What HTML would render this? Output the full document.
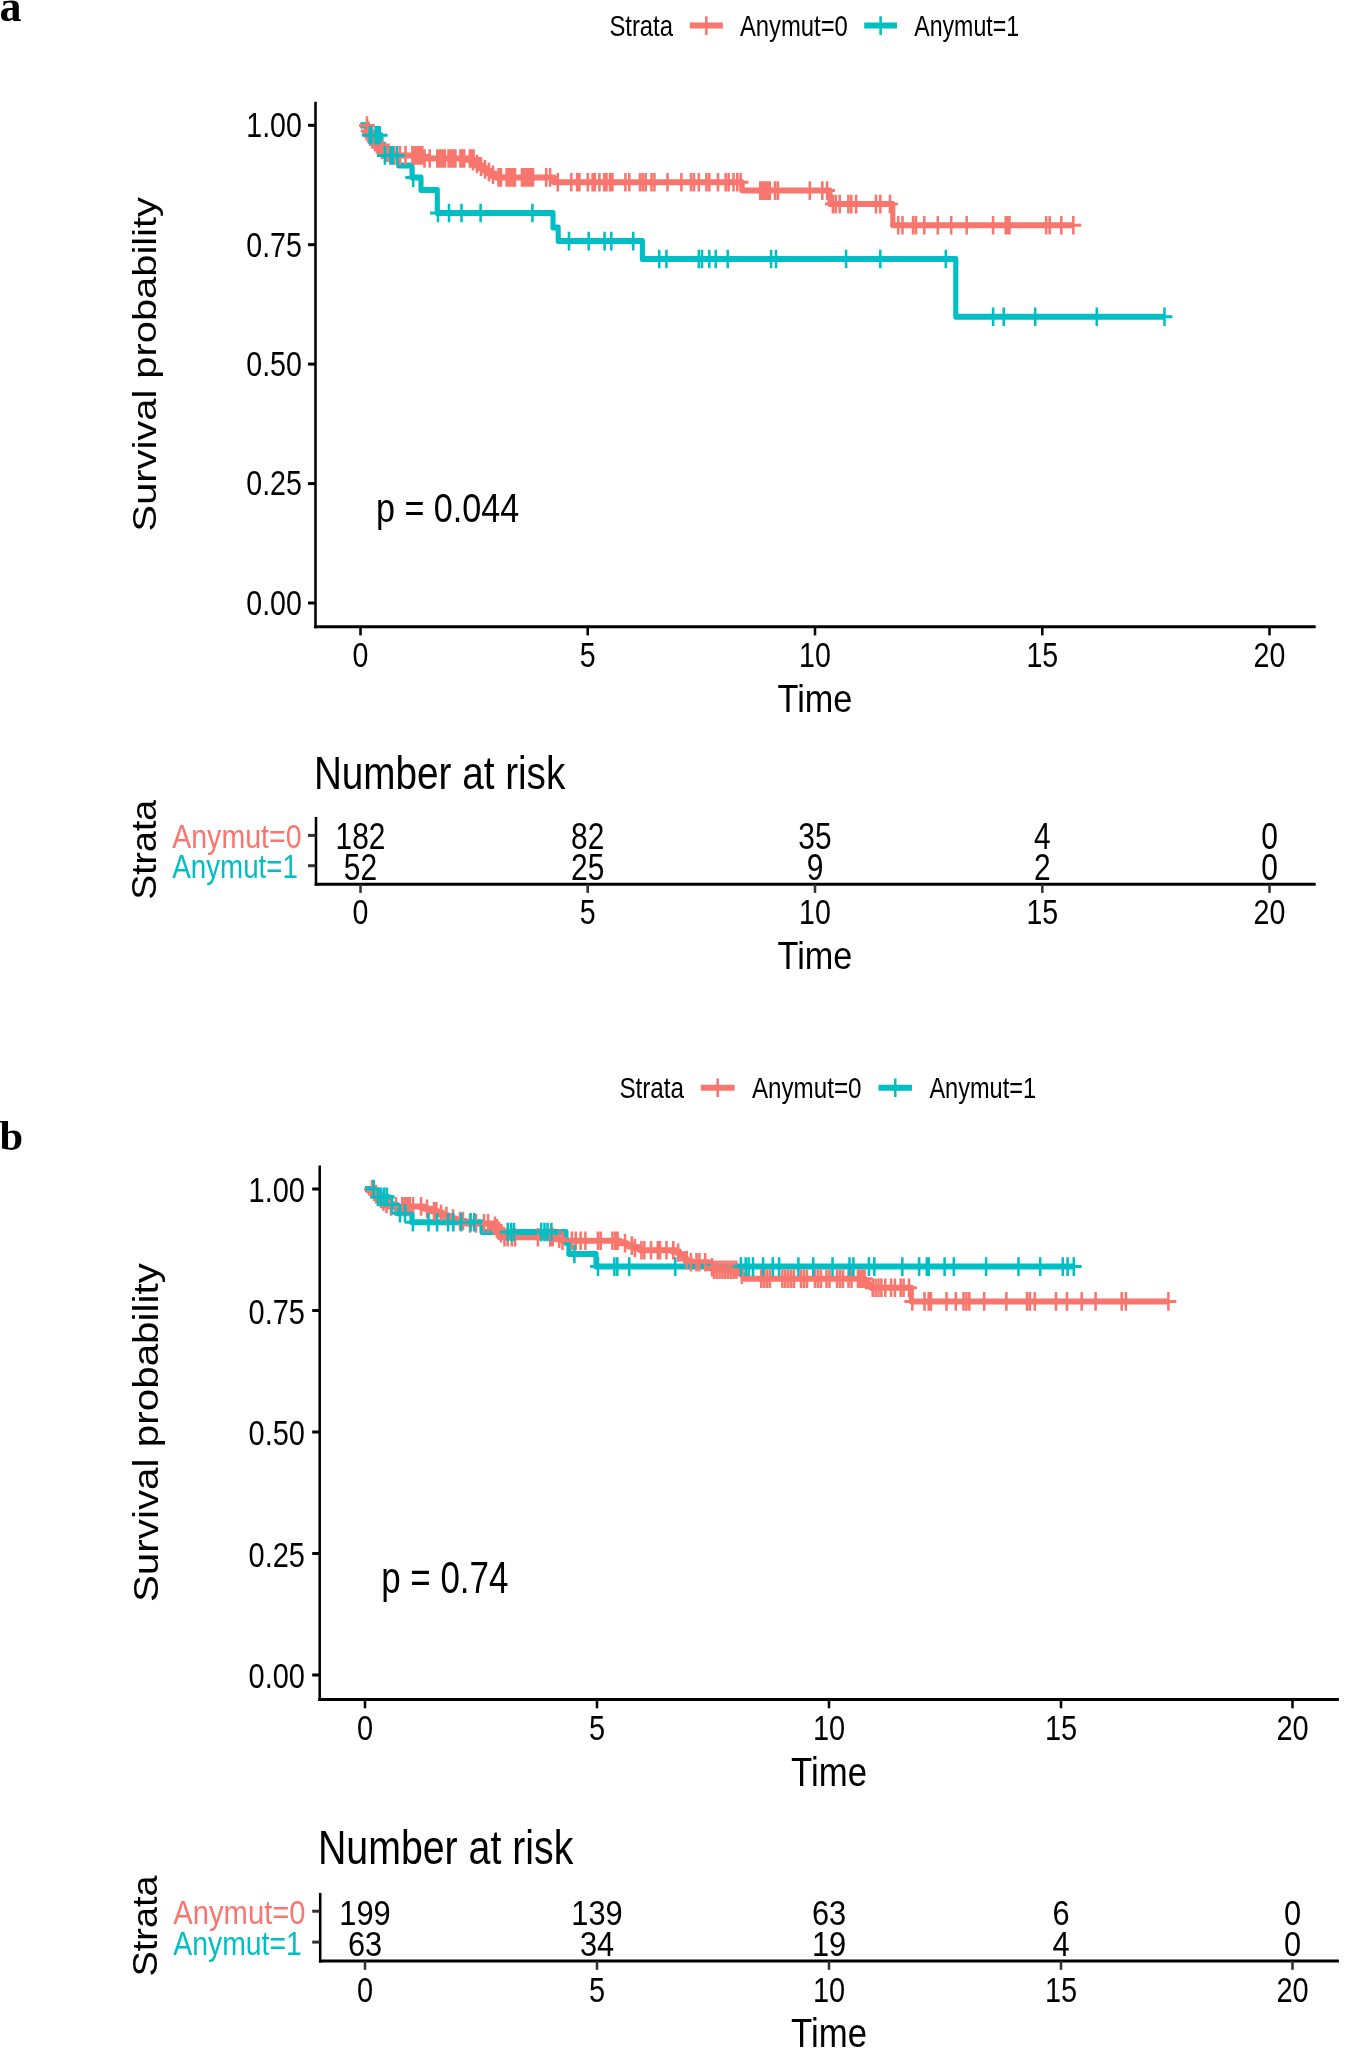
<!DOCTYPE html>
<html lang="en">
<head>
<meta charset="utf-8">
<title>Kaplan-Meier survival curves by Anymut strata</title>
<style>
html,body{margin:0;padding:0;background:#fff;}
body{width:1346px;height:2049px;overflow:hidden;position:relative;}
svg{display:block;position:absolute;left:0;top:0;will-change:transform;}
svg text{font-family:"Liberation Sans", sans-serif;}
.pl{font-family:"Liberation Serif", serif;font-weight:bold;}
</style>
</head>
<body>
<svg width="1346" height="2049" viewBox="0 0 1346 2049">
<rect x="0" y="0" width="1346" height="2049" fill="#ffffff"/>
<text class="pl" style="font-family:'Liberation Serif',serif;font-weight:bold" x="-0.4" y="21.0" font-size="44">a</text>
<text class="pl" style="font-family:'Liberation Serif',serif;font-weight:bold" x="-0.6" y="1149.6" font-size="42.5">b</text>
<g transform="scale(0.85,1)">
<text transform="translate(716.94,35.6) scale(0.935,1)" font-size="30.0" text-anchor="start" fill="#000">Strata</text>
<line x1="811.53" y1="25.6" x2="850.47" y2="25.6" stroke="#F8766D" stroke-width="6.0"/>
<path d="M831.0 16.3V34.9M821.7 25.6H840.3" fill="none" stroke="#F8766D" stroke-width="3.0"/>
<text transform="translate(870.47,35.6) scale(0.935,1)" font-size="30.0" text-anchor="start" fill="#000">Anymut=0</text>
<line x1="1016.71" y1="25.6" x2="1055.29" y2="25.6" stroke="#00BFC4" stroke-width="6.0"/>
<path d="M1036.0 16.3V34.9M1026.7 25.6H1045.3" fill="none" stroke="#00BFC4" stroke-width="3.0"/>
<text transform="translate(1075.53,35.6) scale(0.9088,1)" font-size="30.0" text-anchor="start" fill="#000">Anymut=1</text>
<line x1="371.18" y1="101.8" x2="371.18" y2="628.2" stroke="#000" stroke-width="3.0"/>
<line x1="369.65" y1="626.7" x2="1547.88" y2="626.7" stroke="#000" stroke-width="3.0"/>
<line x1="362.35" y1="125.3" x2="371.18" y2="125.3" stroke="#000" stroke-width="3.0"/>
<text transform="translate(355.18,137.18) scale(0.945,1)" font-size="35.6" text-anchor="end" fill="#000">1.00</text>
<line x1="362.35" y1="244.7" x2="371.18" y2="244.7" stroke="#000" stroke-width="3.0"/>
<text transform="translate(355.18,256.58) scale(0.945,1)" font-size="35.6" text-anchor="end" fill="#000">0.75</text>
<line x1="362.35" y1="364.1" x2="371.18" y2="364.1" stroke="#000" stroke-width="3.0"/>
<text transform="translate(355.18,375.98) scale(0.945,1)" font-size="35.6" text-anchor="end" fill="#000">0.50</text>
<line x1="362.35" y1="483.6" x2="371.18" y2="483.6" stroke="#000" stroke-width="3.0"/>
<text transform="translate(355.18,495.48) scale(0.945,1)" font-size="35.6" text-anchor="end" fill="#000">0.25</text>
<line x1="362.35" y1="603.0" x2="371.18" y2="603.0" stroke="#000" stroke-width="3.0"/>
<text transform="translate(355.18,614.88) scale(0.945,1)" font-size="35.6" text-anchor="end" fill="#000">0.00</text>
<line x1="424.12" y1="626.7" x2="424.12" y2="635.4000000000001" stroke="#000" stroke-width="3.0"/>
<text transform="translate(424.12,666.9) scale(0.945,1)" font-size="35.6" text-anchor="middle" fill="#000">0</text>
<line x1="691.41" y1="626.7" x2="691.41" y2="635.4000000000001" stroke="#000" stroke-width="3.0"/>
<text transform="translate(691.41,666.9) scale(0.945,1)" font-size="35.6" text-anchor="middle" fill="#000">5</text>
<line x1="958.82" y1="626.7" x2="958.82" y2="635.4000000000001" stroke="#000" stroke-width="3.0"/>
<text transform="translate(958.82,666.9) scale(0.945,1)" font-size="35.6" text-anchor="middle" fill="#000">10</text>
<line x1="1226.24" y1="626.7" x2="1226.24" y2="635.4000000000001" stroke="#000" stroke-width="3.0"/>
<text transform="translate(1226.24,666.9) scale(0.945,1)" font-size="35.6" text-anchor="middle" fill="#000">15</text>
<line x1="1493.53" y1="626.7" x2="1493.53" y2="635.4000000000001" stroke="#000" stroke-width="3.0"/>
<text transform="translate(1493.53,666.9) scale(0.945,1)" font-size="35.6" text-anchor="middle" fill="#000">20</text>
<text transform="translate(958.82,711.5) scale(1.015,1)" font-size="39.7" text-anchor="middle" fill="#000">Time</text>
<text transform="translate(184.0,364.25) rotate(-90) scale(1,1.0)" font-size="39.85" text-anchor="middle" fill="#000">Survival probability</text>
<text transform="translate(442.24,521.5) scale(0.99,1)" font-size="40.6" text-anchor="start" fill="#000">p = 0.044</text>
<polyline points="424.12,125.5 431.18,125.5 431.18,128.1 432.94,128.1 432.94,130.9 434.71,130.9 434.71,133.6 436.47,133.6 436.47,136.3 438.24,136.3 438.24,139.1 440.0,139.1 440.0,141.8 442.35,141.8 442.35,144.5 444.71,144.5 444.71,147.2 447.65,147.2 447.65,150 451.76,150 451.76,152.7 461.18,152.7 461.18,155.4 497.65,155.4 497.65,158.5 554.12,158.5 554.12,161.2 558.82,161.2 558.82,164 563.53,164 563.53,166.7 568.24,166.7 568.24,169.4 572.94,169.4 572.94,172.1 577.65,172.1 577.65,174.8 583.53,174.8 583.53,177.4 651.76,177.4 651.76,182.2 873.18,182.2 873.18,190.6 976.47,190.6 976.47,204.1 1050.35,204.1 1050.35,225.2 1262.71,225.2" fill="none" stroke="#F8766D" stroke-width="6.0" stroke-linejoin="round" stroke-linecap="butt"/>
<polyline points="424.12,125.2 432.94,125.2 432.94,135.3 448.24,135.3 448.24,144.5 451.76,144.5 451.76,155.4 469.06,155.4 469.06,165.6 484.71,165.6 484.71,177.6 495.29,177.6 495.29,190 514.47,190 514.47,213 650.59,213 650.59,227.5 656.71,227.5 656.71,241.1 755.76,241.1 755.76,259 1124.47,259 1124.47,316.8 1370.0,316.8" fill="none" stroke="#00BFC4" stroke-width="6.0" stroke-linejoin="round" stroke-linecap="butt"/>
<path d="M431.76 116.2V134.8M422.46 125.5H441.06M433.76 121.6V140.2M424.46 130.9H443.06M435.65 124.3V142.9M426.35 133.6H444.95M437.65 127.0V145.6M428.35 136.3H446.95M439.29 129.8V148.4M429.99 139.1H448.59M441.18 132.5V151.1M431.88 141.8H450.48M443.53 135.2V153.8M434.23 144.5H452.83M445.88 137.9V156.5M436.58 147.2H455.18M449.41 140.7V159.3M440.11 150H458.71M454.12 143.4V162.0M444.82 152.7H463.42M457.06 143.4V162.0M447.76 152.7H466.36M463.53 146.1V164.7M454.23 155.4H472.83M467.06 146.1V164.7M457.76 155.4H476.36M470.59 146.1V164.7M461.29 155.4H479.89M477.06 146.1V164.7M467.76 155.4H486.36M485.18 146.1V164.7M475.88 155.4H494.48M488.24 146.1V164.7M478.94 155.4H497.54M491.18 146.1V164.7M481.88 155.4H500.48M494.12 146.1V164.7M484.82 155.4H503.42M496.82 146.1V164.7M487.52 155.4H506.12M499.41 149.2V167.8M490.11 158.5H508.71M505.53 149.2V167.8M496.23 158.5H514.83M514.47 149.2V167.8M505.17 158.5H523.77M516.82 149.2V167.8M507.52 158.5H526.12M519.18 149.2V167.8M509.88 158.5H528.48M521.53 149.2V167.8M512.23 158.5H530.83M523.53 149.2V167.8M514.23 158.5H532.83M527.76 149.2V167.8M518.46 158.5H537.06M530.35 149.2V167.8M521.05 158.5H539.65M532.94 149.2V167.8M523.64 158.5H542.24M535.76 149.2V167.8M526.46 158.5H545.06M541.65 149.2V167.8M532.35 158.5H550.95M543.88 149.2V167.8M534.58 158.5H553.18M546.12 149.2V167.8M536.82 158.5H555.42M552.71 149.2V167.8M543.41 158.5H562.01M555.06 149.2V167.8M545.76 158.5H564.36M557.18 149.2V167.8M547.88 158.5H566.48M556.47 151.9V170.5M547.17 161.2H565.77M561.18 154.7V173.3M551.88 164H570.48M565.88 157.4V176.0M556.58 166.7H575.18M570.59 160.1V178.7M561.29 169.4H579.89M575.29 162.8V181.4M565.99 172.1H584.59M580.0 165.5V184.1M570.7 174.8H589.3M586.47 168.1V186.7M577.17 177.4H595.77M589.41 168.1V186.7M580.11 177.4H598.71M596.0 168.1V186.7M586.7 177.4H605.3M598.59 168.1V186.7M589.29 177.4H607.89M601.18 168.1V186.7M591.88 177.4H610.48M603.53 168.1V186.7M594.23 177.4H612.83M605.88 168.1V186.7M596.58 177.4H615.18M614.12 168.1V186.7M604.82 177.4H623.42M616.71 168.1V186.7M607.41 177.4H626.01M619.29 168.1V186.7M609.99 177.4H628.59M621.88 168.1V186.7M612.58 177.4H631.18M624.47 168.1V186.7M615.17 177.4H633.77M627.06 168.1V186.7M617.76 177.4H636.36M642.59 168.1V186.7M633.29 177.4H651.89M647.18 168.1V186.7M637.88 177.4H656.48M656.24 172.9V191.5M646.94 182.2H665.54M672.12 172.9V191.5M662.82 182.2H681.42M678.94 172.9V191.5M669.64 182.2H688.24M681.65 172.9V191.5M672.35 182.2H690.95M691.53 172.9V191.5M682.23 182.2H700.83M697.18 172.9V191.5M687.88 182.2H706.48M699.88 172.9V191.5M690.58 182.2H709.18M705.18 172.9V191.5M695.88 182.2H714.48M710.82 172.9V191.5M701.52 182.2H720.12M713.53 172.9V191.5M704.23 182.2H722.83M717.65 172.9V191.5M708.35 182.2H726.95M720.47 172.9V191.5M711.17 182.2H729.77M735.76 172.9V191.5M726.46 182.2H745.06M740.35 172.9V191.5M731.05 182.2H749.65M752.94 172.9V191.5M743.64 182.2H762.24M756.24 172.9V191.5M746.94 182.2H765.54M759.65 172.9V191.5M750.35 182.2H768.95M766.47 172.9V191.5M757.17 182.2H775.77M769.88 172.9V191.5M760.58 182.2H779.18M785.29 172.9V191.5M775.99 182.2H794.59M801.65 172.9V191.5M792.35 182.2H810.95M812.94 172.9V191.5M803.64 182.2H822.24M816.47 172.9V191.5M807.17 182.2H825.77M822.12 172.9V191.5M812.82 182.2H831.42M831.06 172.9V191.5M821.76 182.2H840.36M834.47 172.9V191.5M825.17 182.2H843.77M844.71 172.9V191.5M835.41 182.2H854.01M853.76 172.9V191.5M844.46 182.2H863.06M857.18 172.9V191.5M847.88 182.2H866.48M862.94 172.9V191.5M853.64 182.2H872.24M867.41 172.9V191.5M858.11 182.2H876.71M871.29 172.9V191.5M861.99 182.2H880.59M894.47 181.3V199.9M885.17 190.6H903.77M897.29 181.3V199.9M887.99 190.6H906.59M900.12 181.3V199.9M890.82 190.6H909.42M902.94 181.3V199.9M893.64 190.6H912.24M905.65 181.3V199.9M896.35 190.6H914.95M911.76 181.3V199.9M902.46 190.6H921.06M915.18 181.3V199.9M905.88 190.6H924.48M952.71 181.3V199.9M943.41 190.6H962.01M967.41 181.3V199.9M958.11 190.6H976.71M973.06 181.3V199.9M963.76 190.6H982.36M979.88 194.8V213.4M970.58 204.1H989.18M983.29 194.8V213.4M973.99 204.1H992.59M987.88 194.8V213.4M978.58 204.1H997.18M998.12 194.8V213.4M988.82 204.1H1007.42M1001.53 194.8V213.4M992.23 204.1H1010.83M1007.18 194.8V213.4M997.88 204.1H1016.48M1030.59 194.8V213.4M1021.29 204.1H1039.89M1035.65 194.8V213.4M1026.35 204.1H1044.95M1047.06 194.8V213.4M1037.76 204.1H1056.36M1056.71 215.9V234.5M1047.41 225.2H1066.01M1061.76 215.9V234.5M1052.46 225.2H1071.06M1074.24 215.9V234.5M1064.94 225.2H1083.54M1077.65 215.9V234.5M1068.35 225.2H1086.95M1087.41 215.9V234.5M1078.11 225.2H1096.71M1103.29 215.9V234.5M1093.99 225.2H1112.59M1119.06 215.9V234.5M1109.76 225.2H1128.36M1137.29 215.9V234.5M1127.99 225.2H1146.59M1168.35 215.9V234.5M1159.05 225.2H1177.65M1183.18 215.9V234.5M1173.88 225.2H1192.48M1185.41 215.9V234.5M1176.11 225.2H1194.71M1187.65 215.9V234.5M1178.35 225.2H1196.95M1230.82 215.9V234.5M1221.52 225.2H1240.12M1234.94 215.9V234.5M1225.64 225.2H1244.24M1248.59 215.9V234.5M1239.29 225.2H1257.89M1262.71 215.9V234.5M1253.41 225.2H1272.01" fill="none" stroke="#F8766D" stroke-width="3.0"/>
<path d="M434.94 126.0V144.6M425.64 135.3H444.24M437.06 126.0V144.6M427.76 135.3H446.36M441.88 126.0V144.6M432.58 135.3H451.18M444.59 126.0V144.6M435.29 135.3H453.89M446.71 126.0V144.6M437.41 135.3H456.01M452.82 146.1V164.7M443.52 155.4H462.12M459.41 146.1V164.7M450.11 155.4H468.71M462.0 146.1V164.7M452.7 155.4H471.3M467.06 146.1V164.7M457.76 155.4H476.36M486.12 168.3V186.9M476.82 177.6H495.42M515.29 203.7V222.3M505.99 213H524.59M528.24 203.7V222.3M518.94 213H537.54M542.94 203.7V222.3M533.64 213H552.24M565.41 203.7V222.3M556.11 213H574.71M626.35 203.7V222.3M617.05 213H635.65M669.41 231.8V250.4M660.11 241.1H678.71M692.59 231.8V250.4M683.29 241.1H701.89M711.29 231.8V250.4M701.99 241.1H720.59M719.18 231.8V250.4M709.88 241.1H728.48M744.94 231.8V250.4M735.64 241.1H754.24M775.53 249.7V268.3M766.23 259H784.83M784.0 249.7V268.3M774.7 259H793.3M822.12 249.7V268.3M812.82 259H831.42M825.88 249.7V268.3M816.58 259H835.18M834.47 249.7V268.3M825.17 259H843.77M842.0 249.7V268.3M832.7 259H851.3M856.12 249.7V268.3M846.82 259H865.42M907.18 249.7V268.3M897.88 259H916.48M912.94 249.7V268.3M903.64 259H922.24M995.41 249.7V268.3M986.11 259H1004.71M1035.65 249.7V268.3M1026.35 259H1044.95M1112.71 249.7V268.3M1103.41 259H1122.01M1168.35 307.5V326.1M1159.05 316.8H1177.65M1180.82 307.5V326.1M1171.52 316.8H1190.12M1217.88 307.5V326.1M1208.58 316.8H1227.18M1290.35 307.5V326.1M1281.05 316.8H1299.65M1370.0 307.5V326.1M1360.7 316.8H1379.3" fill="none" stroke="#00BFC4" stroke-width="3.0"/>
<text x="369.29" y="788.8" font-size="45.5" text-anchor="start" fill="#000">Number at risk</text>
<line x1="371.76" y1="816.9" x2="371.76" y2="885.7" stroke="#000" stroke-width="3.0"/>
<line x1="370.24" y1="884.2" x2="1547.88" y2="884.2" stroke="#000" stroke-width="3.0"/>
<line x1="362.35" y1="835.4" x2="371.18" y2="835.4" stroke="#333" stroke-width="3.0"/>
<text transform="translate(202.59,847.9) scale(1.018,1)" font-size="33.0" text-anchor="start" fill="#F8766D">Anymut=0</text>
<text transform="translate(424.12,849.42) scale(0.97,1)" font-size="36.3" text-anchor="middle" fill="#000">182</text>
<text transform="translate(691.41,849.42) scale(0.97,1)" font-size="36.3" text-anchor="middle" fill="#000">82</text>
<text transform="translate(958.82,849.42) scale(0.97,1)" font-size="36.3" text-anchor="middle" fill="#000">35</text>
<text transform="translate(1226.24,849.42) scale(0.97,1)" font-size="36.3" text-anchor="middle" fill="#000">4</text>
<text transform="translate(1493.53,849.42) scale(0.97,1)" font-size="36.3" text-anchor="middle" fill="#000">0</text>
<line x1="362.35" y1="865.7" x2="371.18" y2="865.7" stroke="#333" stroke-width="3.0"/>
<text transform="translate(202.59,878.2) scale(0.9895,1)" font-size="33.0" text-anchor="start" fill="#00BFC4">Anymut=1</text>
<text transform="translate(424.12,879.72) scale(0.97,1)" font-size="36.3" text-anchor="middle" fill="#000">52</text>
<text transform="translate(691.41,879.72) scale(0.97,1)" font-size="36.3" text-anchor="middle" fill="#000">25</text>
<text transform="translate(958.82,879.72) scale(0.97,1)" font-size="36.3" text-anchor="middle" fill="#000">9</text>
<text transform="translate(1226.24,879.72) scale(0.97,1)" font-size="36.3" text-anchor="middle" fill="#000">2</text>
<text transform="translate(1493.53,879.72) scale(0.97,1)" font-size="36.3" text-anchor="middle" fill="#000">0</text>
<line x1="424.12" y1="884.2" x2="424.12" y2="892.9000000000001" stroke="#333" stroke-width="3.0"/>
<text transform="translate(424.12,924.4) scale(0.945,1)" font-size="35.6" text-anchor="middle" fill="#000">0</text>
<line x1="691.41" y1="884.2" x2="691.41" y2="892.9000000000001" stroke="#333" stroke-width="3.0"/>
<text transform="translate(691.41,924.4) scale(0.945,1)" font-size="35.6" text-anchor="middle" fill="#000">5</text>
<line x1="958.82" y1="884.2" x2="958.82" y2="892.9000000000001" stroke="#333" stroke-width="3.0"/>
<text transform="translate(958.82,924.4) scale(0.945,1)" font-size="35.6" text-anchor="middle" fill="#000">10</text>
<line x1="1226.24" y1="884.2" x2="1226.24" y2="892.9000000000001" stroke="#333" stroke-width="3.0"/>
<text transform="translate(1226.24,924.4) scale(0.945,1)" font-size="35.6" text-anchor="middle" fill="#000">15</text>
<line x1="1493.53" y1="884.2" x2="1493.53" y2="892.9000000000001" stroke="#333" stroke-width="3.0"/>
<text transform="translate(1493.53,924.4) scale(0.945,1)" font-size="35.6" text-anchor="middle" fill="#000">20</text>
<text transform="translate(958.82,969.0) scale(1.015,1)" font-size="39.7" text-anchor="middle" fill="#000">Time</text>
<text transform="translate(183.29,849.8) rotate(-90) scale(1,1.08)" font-size="37.5" text-anchor="middle" fill="#000">Strata</text>
<text transform="translate(728.71,1097.6) scale(0.95,1)" font-size="30.0" text-anchor="start" fill="#000">Strata</text>
<line x1="824.47" y1="1087.7" x2="864.24" y2="1087.7" stroke="#F8766D" stroke-width="6.0"/>
<path d="M844.35 1078.4V1097.0M835.05 1087.7H853.65" fill="none" stroke="#F8766D" stroke-width="3.0"/>
<text transform="translate(884.59,1097.6) scale(0.95,1)" font-size="30.0" text-anchor="start" fill="#000">Anymut=0</text>
<line x1="1033.53" y1="1087.7" x2="1072.94" y2="1087.7" stroke="#00BFC4" stroke-width="6.0"/>
<path d="M1053.24 1078.4V1097.0M1043.94 1087.7H1062.54" fill="none" stroke="#00BFC4" stroke-width="3.0"/>
<text transform="translate(1093.41,1097.6) scale(0.9234,1)" font-size="30.0" text-anchor="start" fill="#000">Anymut=1</text>
<line x1="376.12" y1="1165.6" x2="376.12" y2="1701.1" stroke="#000" stroke-width="3.0"/>
<line x1="374.59" y1="1699.6" x2="1575.18" y2="1699.6" stroke="#000" stroke-width="3.0"/>
<line x1="367.29" y1="1189" x2="376.12" y2="1189" stroke="#000" stroke-width="3.0"/>
<text transform="translate(358.71,1202.02) scale(0.955,1)" font-size="35.7" text-anchor="end" fill="#000">1.00</text>
<line x1="367.29" y1="1310.5" x2="376.12" y2="1310.5" stroke="#000" stroke-width="3.0"/>
<text transform="translate(358.71,1323.52) scale(0.955,1)" font-size="35.7" text-anchor="end" fill="#000">0.75</text>
<line x1="367.29" y1="1432" x2="376.12" y2="1432" stroke="#000" stroke-width="3.0"/>
<text transform="translate(358.71,1445.02) scale(0.955,1)" font-size="35.7" text-anchor="end" fill="#000">0.50</text>
<line x1="367.29" y1="1553.5" x2="376.12" y2="1553.5" stroke="#000" stroke-width="3.0"/>
<text transform="translate(358.71,1566.52) scale(0.955,1)" font-size="35.7" text-anchor="end" fill="#000">0.25</text>
<line x1="367.29" y1="1675" x2="376.12" y2="1675" stroke="#000" stroke-width="3.0"/>
<text transform="translate(358.71,1688.02) scale(0.955,1)" font-size="35.7" text-anchor="end" fill="#000">0.00</text>
<line x1="429.41" y1="1699.6" x2="429.41" y2="1708.3" stroke="#000" stroke-width="3.0"/>
<text transform="translate(429.41,1740.2) scale(0.955,1)" font-size="35.7" text-anchor="middle" fill="#000">0</text>
<line x1="702.35" y1="1699.6" x2="702.35" y2="1708.3" stroke="#000" stroke-width="3.0"/>
<text transform="translate(702.35,1740.2) scale(0.955,1)" font-size="35.7" text-anchor="middle" fill="#000">5</text>
<line x1="975.29" y1="1699.6" x2="975.29" y2="1708.3" stroke="#000" stroke-width="3.0"/>
<text transform="translate(975.29,1740.2) scale(0.955,1)" font-size="35.7" text-anchor="middle" fill="#000">10</text>
<line x1="1248.24" y1="1699.6" x2="1248.24" y2="1708.3" stroke="#000" stroke-width="3.0"/>
<text transform="translate(1248.24,1740.2) scale(0.955,1)" font-size="35.7" text-anchor="middle" fill="#000">15</text>
<line x1="1520.59" y1="1699.6" x2="1520.59" y2="1708.3" stroke="#000" stroke-width="3.0"/>
<text transform="translate(1520.59,1740.2) scale(0.955,1)" font-size="35.7" text-anchor="middle" fill="#000">20</text>
<text transform="translate(975.29,1785.8) scale(1.01,1)" font-size="40.5" text-anchor="middle" fill="#000">Time</text>
<text transform="translate(185.53,1432.6) rotate(-90) scale(1,1.0)" font-size="40.4" text-anchor="middle" fill="#000">Survival probability</text>
<text transform="translate(448.47,1592.6) scale(0.945,1)" font-size="43.5" text-anchor="start" fill="#000">p = 0.74</text>
<polyline points="429.41,1189.3 438.82,1189.3 438.82,1191.7 441.18,1191.7 441.18,1194.2 443.53,1194.2 443.53,1196.6 446.47,1196.6 446.47,1199 449.41,1199 449.41,1201.5 452.94,1201.5 452.94,1203.9 456.47,1203.9 456.47,1206.4 498.82,1206.4 498.82,1208.8 507.06,1208.8 507.06,1211.2 515.29,1211.2 515.29,1213.7 522.35,1213.7 522.35,1216.1 529.41,1216.1 529.41,1218.6 536.47,1218.6 536.47,1221 548.24,1221 548.24,1223.4 581.18,1223.4 581.18,1225.9 583.53,1225.9 583.53,1228.3 585.88,1228.3 585.88,1230.8 588.24,1230.8 588.24,1233.2 590.59,1233.2 590.59,1235.6 592.35,1235.6 592.35,1237.2 652.94,1237.2 652.94,1238.6 661.18,1238.6 661.18,1240.8 729.41,1240.8 729.41,1243.2 737.65,1243.2 737.65,1245.6 745.88,1245.6 745.88,1248 752.94,1248 752.94,1250.3 796.47,1250.3 796.47,1252.7 800.0,1252.7 800.0,1255.2 803.53,1255.2 803.53,1257.6 807.06,1257.6 807.06,1260 809.41,1260 809.41,1262.2 834.12,1262.2 834.12,1264.8 836.47,1264.8 836.47,1267.3 838.82,1267.3 838.82,1269.8 869.41,1269.8 869.41,1272.3 871.76,1272.3 871.76,1274.7 874.12,1274.7 874.12,1277.1 876.47,1277.1 876.47,1278.8 1017.65,1278.8 1017.65,1281.8 1021.18,1281.8 1021.18,1284.8 1024.47,1284.8 1024.47,1287.8 1072.12,1287.8 1072.12,1301.4 1374.59,1301.4" fill="none" stroke="#F8766D" stroke-width="6.0" stroke-linejoin="round" stroke-linecap="butt"/>
<polyline points="429.41,1189 441.18,1189 441.18,1196.9 456.94,1196.9 456.94,1204.4 466.59,1204.4 466.59,1213.2 484.71,1213.2 484.71,1222.2 567.06,1222.2 567.06,1232 665.88,1232 665.88,1243 669.41,1243 669.41,1254 701.18,1254 701.18,1266.6 1263.29,1266.6" fill="none" stroke="#00BFC4" stroke-width="6.0" stroke-linejoin="round" stroke-linecap="butt"/>
<path d="M437.65 1180.0V1198.6M428.35 1189.3H446.95M440.0 1182.4V1201.0M430.7 1191.7H449.3M442.35 1184.9V1203.5M433.05 1194.2H451.65M444.71 1187.3V1205.9M435.41 1196.6H454.01M448.24 1189.7V1208.3M438.94 1199H457.54M451.18 1192.2V1210.8M441.88 1201.5H460.48M454.71 1194.6V1213.2M445.41 1203.9H464.01M460.0 1197.1V1215.7M450.7 1206.4H469.3M465.88 1197.1V1215.7M456.58 1206.4H475.18M473.29 1197.1V1215.7M463.99 1206.4H482.59M476.24 1197.1V1215.7M466.94 1206.4H485.54M479.06 1197.1V1215.7M469.76 1206.4H488.36M482.0 1197.1V1215.7M472.7 1206.4H491.3M485.88 1197.1V1215.7M476.58 1206.4H495.18M495.41 1197.1V1215.7M486.11 1206.4H504.71M502.35 1199.5V1218.1M493.05 1208.8H511.65M510.59 1201.9V1220.5M501.29 1211.2H519.89M513.29 1201.9V1220.5M503.99 1211.2H522.59M518.82 1204.4V1223.0M509.52 1213.7H528.12M525.18 1206.8V1225.4M515.88 1216.1H534.48M532.94 1209.3V1227.9M523.64 1218.6H542.24M541.18 1211.7V1230.3M531.88 1221H550.48M544.71 1211.7V1230.3M535.41 1221H554.01M552.94 1214.1V1232.7M543.64 1223.4H562.24M560.0 1214.1V1232.7M550.7 1223.4H569.3M569.41 1214.1V1232.7M560.11 1223.4H578.71M574.24 1214.1V1232.7M564.94 1223.4H583.54M582.35 1216.6V1235.2M573.05 1225.9H591.65M584.71 1219.0V1237.6M575.41 1228.3H594.01M587.06 1221.5V1240.1M577.76 1230.8H596.36M589.41 1223.9V1242.5M580.11 1233.2H598.71M593.53 1227.9V1246.5M584.23 1237.2H602.83M597.29 1227.9V1246.5M587.99 1237.2H606.59M602.12 1227.9V1246.5M592.82 1237.2H611.42M606.0 1227.9V1246.5M596.7 1237.2H615.3M632.94 1227.9V1246.5M623.64 1237.2H642.24M647.29 1227.9V1246.5M637.99 1237.2H656.59M650.24 1227.9V1246.5M640.94 1237.2H659.54M657.88 1229.3V1247.9M648.58 1238.6H667.18M661.76 1231.5V1250.1M652.46 1240.8H671.06M672.82 1231.5V1250.1M663.52 1240.8H682.12M677.29 1231.5V1250.1M667.99 1240.8H686.59M683.06 1231.5V1250.1M673.76 1240.8H692.36M688.71 1231.5V1250.1M679.41 1240.8H698.01M703.53 1231.5V1250.1M694.23 1240.8H712.83M706.82 1231.5V1250.1M697.52 1240.8H716.12M720.47 1231.5V1250.1M711.17 1240.8H729.77M723.88 1231.5V1250.1M714.58 1240.8H733.18M726.59 1231.5V1250.1M717.29 1240.8H735.89M735.29 1233.9V1252.5M725.99 1243.2H744.59M743.29 1236.3V1254.9M733.99 1245.6H752.59M746.94 1238.7V1257.3M737.64 1248H756.24M754.59 1241.0V1259.6M745.29 1250.3H763.89M758.0 1241.0V1259.6M748.7 1250.3H767.3M765.88 1241.0V1259.6M756.58 1250.3H775.18M773.88 1241.0V1259.6M764.58 1250.3H783.18M776.47 1241.0V1259.6M767.17 1250.3H785.77M784.12 1241.0V1259.6M774.82 1250.3H793.42M792.12 1241.0V1259.6M782.82 1250.3H801.42M797.76 1243.4V1262.0M788.46 1252.7H807.06M808.0 1250.7V1269.3M798.7 1260H817.3M812.94 1252.9V1271.5M803.64 1262.2H822.24M819.41 1252.9V1271.5M810.11 1262.2H828.71M822.82 1252.9V1271.5M813.52 1262.2H832.12M829.65 1252.9V1271.5M820.35 1262.2H838.95M837.65 1258.0V1276.6M828.35 1267.3H846.95M840.0 1260.5V1279.1M830.7 1269.8H849.3M843.29 1260.5V1279.1M833.99 1269.8H852.59M846.59 1260.5V1279.1M837.29 1269.8H855.89M849.88 1260.5V1279.1M840.58 1269.8H859.18M853.18 1260.5V1279.1M843.88 1269.8H862.48M856.47 1260.5V1279.1M847.17 1269.8H865.77M859.76 1260.5V1279.1M850.46 1269.8H869.06M863.06 1260.5V1279.1M853.76 1269.8H872.36M866.35 1260.5V1279.1M857.05 1269.8H875.65M872.82 1265.4V1284.0M863.52 1274.7H882.12M895.53 1269.5V1288.1M886.23 1278.8H904.83M898.94 1269.5V1288.1M889.64 1278.8H908.24M902.35 1269.5V1288.1M893.05 1278.8H911.65M905.76 1269.5V1288.1M896.46 1278.8H915.06M920.47 1269.5V1288.1M911.17 1278.8H929.77M923.88 1269.5V1288.1M914.58 1278.8H933.18M927.29 1269.5V1288.1M917.99 1278.8H936.59M930.71 1269.5V1288.1M921.41 1278.8H940.01M934.12 1269.5V1288.1M924.82 1278.8H943.42M942.35 1269.5V1288.1M933.05 1278.8H951.65M945.88 1269.5V1288.1M936.58 1278.8H955.18M949.41 1269.5V1288.1M940.11 1278.8H958.71M958.82 1269.5V1288.1M949.52 1278.8H968.12M962.35 1269.5V1288.1M953.05 1278.8H971.65M965.88 1269.5V1288.1M956.58 1278.8H975.18M972.35 1269.5V1288.1M963.05 1278.8H981.65M975.88 1269.5V1288.1M966.58 1278.8H985.18M984.71 1269.5V1288.1M975.41 1278.8H994.01M988.24 1269.5V1288.1M978.94 1278.8H997.54M991.76 1269.5V1288.1M982.46 1278.8H1001.06M998.24 1269.5V1288.1M988.94 1278.8H1007.54M1001.76 1269.5V1288.1M992.46 1278.8H1011.06M1009.41 1269.5V1288.1M1000.11 1278.8H1018.71M1012.0 1269.5V1288.1M1002.7 1278.8H1021.3M1014.59 1269.5V1288.1M1005.29 1278.8H1023.89M1017.18 1269.5V1288.1M1007.88 1278.8H1026.48M1026.71 1278.5V1297.1M1017.41 1287.8H1036.01M1030.12 1278.5V1297.1M1020.82 1287.8H1039.42M1033.53 1278.5V1297.1M1024.23 1287.8H1042.83M1036.94 1278.5V1297.1M1027.64 1287.8H1046.24M1041.53 1278.5V1297.1M1032.23 1287.8H1050.83M1048.35 1278.5V1297.1M1039.05 1287.8H1057.65M1052.82 1278.5V1297.1M1043.52 1287.8H1062.12M1059.65 1278.5V1297.1M1050.35 1287.8H1068.95M1063.06 1278.5V1297.1M1053.76 1287.8H1072.36M1069.41 1278.5V1297.1M1060.11 1287.8H1078.71M1073.29 1292.1V1310.7M1063.99 1301.4H1082.59M1087.65 1292.1V1310.7M1078.35 1301.4H1096.95M1092.59 1292.1V1310.7M1083.29 1301.4H1101.89M1095.18 1292.1V1310.7M1085.88 1301.4H1104.48M1113.53 1292.1V1310.7M1104.23 1301.4H1122.83M1124.47 1292.1V1310.7M1115.17 1301.4H1133.77M1133.53 1292.1V1310.7M1124.23 1301.4H1142.83M1136.94 1292.1V1310.7M1127.64 1301.4H1146.24M1140.35 1292.1V1310.7M1131.05 1301.4H1149.65M1157.88 1292.1V1310.7M1148.58 1301.4H1167.18M1184.0 1292.1V1310.7M1174.7 1301.4H1193.3M1208.24 1292.1V1310.7M1198.94 1301.4H1217.54M1211.65 1292.1V1310.7M1202.35 1301.4H1220.95M1217.41 1292.1V1310.7M1208.11 1301.4H1226.71M1242.35 1292.1V1310.7M1233.05 1301.4H1251.65M1255.29 1292.1V1310.7M1245.99 1301.4H1264.59M1272.59 1292.1V1310.7M1263.29 1301.4H1281.89M1288.94 1292.1V1310.7M1279.64 1301.4H1298.24M1319.65 1292.1V1310.7M1310.35 1301.4H1328.95M1324.59 1292.1V1310.7M1315.29 1301.4H1333.89M1374.59 1292.1V1310.7M1365.29 1301.4H1383.89" fill="none" stroke="#F8766D" stroke-width="3.0"/>
<path d="M439.65 1179.7V1198.3M430.35 1189H448.95M444.71 1187.6V1206.2M435.41 1196.9H454.01M448.24 1187.6V1206.2M438.94 1196.9H457.54M451.76 1187.6V1206.2M442.46 1196.9H461.06M455.06 1187.6V1206.2M445.76 1196.9H464.36M461.18 1195.1V1213.7M451.88 1204.4H470.48M470.59 1203.9V1222.5M461.29 1213.2H479.89M476.47 1203.9V1222.5M467.17 1213.2H485.77M485.76 1212.9V1231.5M476.46 1222.2H495.06M504.12 1212.9V1231.5M494.82 1222.2H513.42M514.24 1212.9V1231.5M504.94 1222.2H523.54M527.18 1212.9V1231.5M517.88 1222.2H536.48M533.29 1212.9V1231.5M523.99 1222.2H542.59M542.47 1212.9V1231.5M533.17 1222.2H551.77M553.65 1212.9V1231.5M544.35 1222.2H562.95M557.88 1212.9V1231.5M548.58 1222.2H567.18M597.29 1222.7V1241.3M587.99 1232H606.59M601.18 1222.7V1241.3M591.88 1232H610.48M604.71 1222.7V1241.3M595.41 1232H614.01M636.71 1222.7V1241.3M627.41 1232H646.01M640.59 1222.7V1241.3M631.29 1232H649.89M644.12 1222.7V1241.3M634.82 1232H653.42M648.71 1222.7V1241.3M639.41 1232H658.01M675.76 1244.7V1263.3M666.46 1254H685.06M703.53 1257.3V1275.9M694.23 1266.6H712.83M722.82 1257.3V1275.9M713.52 1266.6H732.12M726.24 1257.3V1275.9M716.94 1266.6H735.54M740.24 1257.3V1275.9M730.94 1266.6H749.54M794.35 1257.3V1275.9M785.05 1266.6H803.65M871.65 1257.3V1275.9M862.35 1266.6H880.95M877.29 1257.3V1275.9M867.99 1266.6H886.59M880.71 1257.3V1275.9M871.41 1266.6H890.01M885.88 1257.3V1275.9M876.58 1266.6H895.18M897.76 1257.3V1275.9M888.46 1266.6H907.06M909.18 1257.3V1275.9M899.88 1266.6H918.48M916.59 1257.3V1275.9M907.29 1266.6H925.89M939.29 1257.3V1275.9M929.99 1266.6H948.59M956.71 1257.3V1275.9M947.41 1266.6H966.01M979.41 1257.3V1275.9M970.11 1266.6H988.71M999.41 1257.3V1275.9M990.11 1266.6H1008.71M1004.0 1257.3V1275.9M994.7 1266.6H1013.3M1022.24 1257.3V1275.9M1012.94 1266.6H1031.54M1028.59 1257.3V1275.9M1019.29 1266.6H1037.89M1061.53 1257.3V1275.9M1052.23 1266.6H1070.83M1081.29 1257.3V1275.9M1071.99 1266.6H1090.59M1090.35 1257.3V1275.9M1081.05 1266.6H1099.65M1092.59 1257.3V1275.9M1083.29 1266.6H1101.89M1111.29 1257.3V1275.9M1101.99 1266.6H1120.59M1122.12 1257.3V1275.9M1112.82 1266.6H1131.42M1160.12 1257.3V1275.9M1150.82 1266.6H1169.42M1198.24 1257.3V1275.9M1188.94 1266.6H1207.54M1223.76 1257.3V1275.9M1214.46 1266.6H1233.06M1250.35 1257.3V1275.9M1241.05 1266.6H1259.65M1256.0 1257.3V1275.9M1246.7 1266.6H1265.3M1263.29 1257.3V1275.9M1253.99 1266.6H1272.59" fill="none" stroke="#00BFC4" stroke-width="3.0"/>
<text transform="translate(374.12,1864.3) scale(0.975,1)" font-size="47.4" text-anchor="start" fill="#000">Number at risk</text>
<line x1="376.71" y1="1892.9" x2="376.71" y2="1962.6" stroke="#000" stroke-width="3.0"/>
<line x1="375.18" y1="1961.1" x2="1575.18" y2="1961.1" stroke="#000" stroke-width="3.0"/>
<line x1="367.29" y1="1911.2" x2="376.12" y2="1911.2" stroke="#333" stroke-width="3.0"/>
<text transform="translate(203.88,1923.7) scale(1.022,1)" font-size="33.6" text-anchor="start" fill="#F8766D">Anymut=0</text>
<text transform="translate(429.41,1924.95) scale(1.02,1)" font-size="35.5" text-anchor="middle" fill="#000">199</text>
<text transform="translate(702.35,1924.95) scale(1.02,1)" font-size="35.5" text-anchor="middle" fill="#000">139</text>
<text transform="translate(975.29,1924.95) scale(1.02,1)" font-size="35.5" text-anchor="middle" fill="#000">63</text>
<text transform="translate(1248.24,1924.95) scale(1.02,1)" font-size="35.5" text-anchor="middle" fill="#000">6</text>
<text transform="translate(1520.59,1924.95) scale(1.02,1)" font-size="35.5" text-anchor="middle" fill="#000">0</text>
<line x1="367.29" y1="1942.1" x2="376.12" y2="1942.1" stroke="#333" stroke-width="3.0"/>
<text transform="translate(203.88,1954.6) scale(0.9934,1)" font-size="33.6" text-anchor="start" fill="#00BFC4">Anymut=1</text>
<text transform="translate(429.41,1955.85) scale(1.02,1)" font-size="35.5" text-anchor="middle" fill="#000">63</text>
<text transform="translate(702.35,1955.85) scale(1.02,1)" font-size="35.5" text-anchor="middle" fill="#000">34</text>
<text transform="translate(975.29,1955.85) scale(1.02,1)" font-size="35.5" text-anchor="middle" fill="#000">19</text>
<text transform="translate(1248.24,1955.85) scale(1.02,1)" font-size="35.5" text-anchor="middle" fill="#000">4</text>
<text transform="translate(1520.59,1955.85) scale(1.02,1)" font-size="35.5" text-anchor="middle" fill="#000">0</text>
<line x1="429.41" y1="1961.1" x2="429.41" y2="1969.8" stroke="#333" stroke-width="3.0"/>
<text transform="translate(429.41,2001.7) scale(0.955,1)" font-size="35.7" text-anchor="middle" fill="#000">0</text>
<line x1="702.35" y1="1961.1" x2="702.35" y2="1969.8" stroke="#333" stroke-width="3.0"/>
<text transform="translate(702.35,2001.7) scale(0.955,1)" font-size="35.7" text-anchor="middle" fill="#000">5</text>
<line x1="975.29" y1="1961.1" x2="975.29" y2="1969.8" stroke="#333" stroke-width="3.0"/>
<text transform="translate(975.29,2001.7) scale(0.955,1)" font-size="35.7" text-anchor="middle" fill="#000">10</text>
<line x1="1248.24" y1="1961.1" x2="1248.24" y2="1969.8" stroke="#333" stroke-width="3.0"/>
<text transform="translate(1248.24,2001.7) scale(0.955,1)" font-size="35.7" text-anchor="middle" fill="#000">15</text>
<line x1="1520.59" y1="1961.1" x2="1520.59" y2="1969.8" stroke="#333" stroke-width="3.0"/>
<text transform="translate(1520.59,2001.7) scale(0.955,1)" font-size="35.7" text-anchor="middle" fill="#000">20</text>
<text transform="translate(975.29,2047.3) scale(1.01,1)" font-size="40.5" text-anchor="middle" fill="#000">Time</text>
<text transform="translate(184.24,1926) rotate(-90) scale(1,1.08)" font-size="37.9" text-anchor="middle" fill="#000">Strata</text>
</g>
</svg>
</body>
</html>
